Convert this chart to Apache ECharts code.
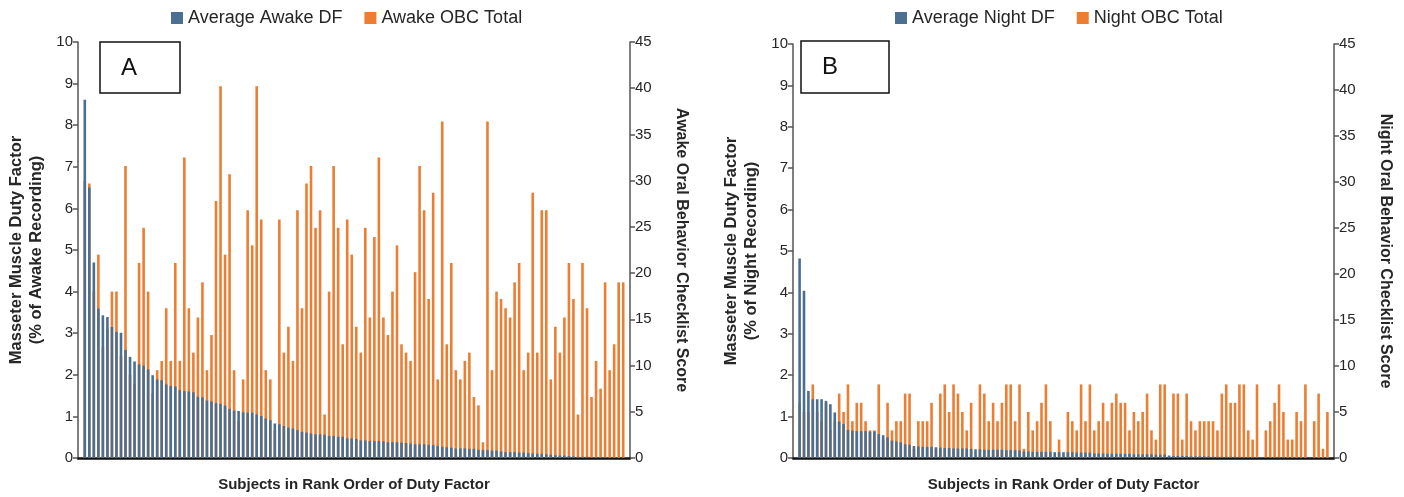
<!DOCTYPE html>
<html>
<head>
<meta charset="utf-8">
<script src="https://cdn.jsdelivr.net/npm/echarts@6/dist/echarts.min.js"></script>
<style>
  html, body { margin: 0; padding: 0; background: #fff; }
  #chart { width: 1404px; height: 497px; }
</style>
</head>
<body>
<div id="chart"></div>
<script>
// panel A: awake, subjects ranked by duty factor
const awakeDF = [
  8.61, 6.50, 4.70, 3.59, 3.43, 3.39, 3.15, 3.03, 3.01, 2.60,
  2.43, 2.32, 2.25, 2.22, 2.13, 1.99, 1.89, 1.87, 1.77, 1.73,
  1.72, 1.63, 1.61, 1.60, 1.58, 1.47, 1.46, 1.38, 1.36, 1.32,
  1.30, 1.26, 1.18, 1.14, 1.13, 1.10, 1.09, 1.09, 1.05, 1.01,
  0.95, 0.91, 0.83, 0.81, 0.77, 0.73, 0.71, 0.67, 0.63, 0.61,
  0.59, 0.57, 0.57, 0.56, 0.53, 0.53, 0.51, 0.51, 0.47, 0.47,
  0.46, 0.42, 0.42, 0.41, 0.41, 0.41, 0.40, 0.38, 0.38, 0.38,
  0.37, 0.36, 0.35, 0.33, 0.33, 0.33, 0.32, 0.31, 0.29, 0.27,
  0.26, 0.25, 0.23, 0.23, 0.23, 0.22, 0.22, 0.20, 0.19, 0.19,
  0.18, 0.18, 0.16, 0.14, 0.14, 0.14, 0.13, 0.13, 0.12, 0.11,
  0.10, 0.10, 0.09, 0.08, 0.07, 0.06, 0.06, 0.05, 0.04, 0.03,
  0.03, 0.03, 0.02, 0.02, 0.02, 0.02, 0.01, 0.01, 0.01, 0.01
]
const awakeOBC = [
  30, 29.7, 18, 22.0, 12, 14, 18.0, 18.0, 11, 31.6,
  9, 8, 21.1, 24.9, 18.0, 7, 9.5, 10.5, 16.2, 10.5,
  21.1, 10.5, 32.5, 16.2, 11.4, 15.2, 19.0, 9.5, 13.3, 27.8,
  40.2, 22.0, 30.7, 9.5, 4, 8.5, 26.8, 23.0, 40.2, 25.8,
  9.5, 8.5, 3, 25.8, 11.4, 14.2, 10.5, 26.8, 16.2, 29.7,
  31.6, 24.9, 26.8, 4.7, 18.0, 31.6, 24.9, 12.3, 25.8, 22.0,
  14.2, 11.4, 24.9, 15.2, 23.9, 32.5, 15.2, 13.3, 18.0, 23.0,
  12.3, 11.4, 10.5, 20.1, 31.6, 26.8, 17.2, 28.7, 8.5, 36.4,
  12.3, 21.1, 9.5, 8.5, 10.5, 11.4, 6.6, 5.7, 1.7, 36.4,
  9.5, 18.0, 17.2, 16.2, 15.2, 19.0, 21.1, 9.5, 11.4, 28.7,
  11.4, 26.8, 26.8, 8.5, 14.2, 11.4, 15.2, 21.1, 17.2, 4.7,
  21.1, 16.2, 6.6, 10.5, 7.5, 19.0, 9.5, 12.3, 19.0, 19.0
]

// panel B: night
const nightDF = [
  4.82, 4.04, 1.62, 1.42, 1.42, 1.42, 1.38, 1.30, 1.10, 0.88,
  0.82, 0.68, 0.66, 0.65, 0.65, 0.65, 0.64, 0.64, 0.58, 0.55,
  0.50, 0.42, 0.40, 0.38, 0.33, 0.32, 0.29, 0.28, 0.27, 0.27,
  0.27, 0.26, 0.25, 0.24, 0.24, 0.23, 0.23, 0.23, 0.23, 0.22,
  0.21, 0.21, 0.20, 0.20, 0.20, 0.20, 0.20, 0.19, 0.19, 0.19,
  0.18, 0.16, 0.16, 0.15, 0.15, 0.15, 0.15, 0.15, 0.14, 0.14,
  0.14, 0.14, 0.14, 0.13, 0.13, 0.13, 0.13, 0.11, 0.11, 0.11,
  0.10, 0.10, 0.10, 0.10, 0.10, 0.10, 0.09, 0.09, 0.09, 0.09,
  0.09, 0.08, 0.08, 0.08, 0.06, 0.05, 0.05, 0.05, 0.05, 0.04,
  0.04, 0.04, 0.04, 0.04, 0.03, 0.03, 0.03, 0.03, 0.03, 0.03,
  0.03, 0.02, 0.02, 0.02, 0.02, 0.02, 0.02, 0.02, 0.02, 0.02,
  0.02, 0.01, 0.01, 0.01, 0.01, 0.01, 0.01, 0.01, 0.01, 0.01,
  0.01
]
const nightOBC = [
  6, 5, 5, 8, 5, 4, 6, 3, 4, 7,
  5, 8, 4, 6, 6, 4, 3, 3, 8, 2,
  6, 3, 4, 4, 7, 7, 1, 4, 4, 4,
  6, 1, 7, 8, 5, 8, 7, 5, 3, 6,
  0, 8, 7, 4, 6, 4, 6, 8, 8, 4,
  8, 1, 5, 3, 4, 6, 8, 4, 0, 2,
  0, 5, 4, 3, 8, 4, 8, 3, 4, 6,
  4, 6, 7, 6, 6, 3, 5, 4, 5, 7,
  3, 2, 8, 8, 0, 7, 7, 2, 7, 4,
  3, 4, 4, 4, 4, 3, 7, 8, 6, 6,
  8, 8, 3, 2, 8, 0, 3, 4, 6, 8,
  5, 2, 2, 5, 4, 8, 0, 4, 7, 1,
  5
]

const dfTicks = [0, 10, 1]
const obcTicks = [0, 45, 5]

const FONT = '"Liberation Sans", Arial, sans-serif'
const BLUE = '#4b6f90'
const ORANGE = '#ed7d31'
const INK = '#262626'

// one empty slot at each end, the original axis leaves a little room
function padded (arr) {
  return [null].concat(arr, [null])
}
function rankCats (n) {
  let out = ['']
  for (let i = 1; i <= n; i++) out.push(String(i))
  out.push('')
  return out
}

function valueAxis (gridIndex, ticks, side, name, nameGap, rotate, size) {
  return {
    type: 'value',
    gridIndex: gridIndex,
    position: side,
    min: ticks[0],
    max: ticks[1],
    interval: ticks[2],
    name: name,
    nameLocation: 'middle',
    nameGap: nameGap,
    nameRotate: rotate,
    nameTextStyle: { fontFamily: FONT, fontSize: size, fontWeight: 'bold', color: INK, lineHeight: 20 },
    axisLine: { show: true, lineStyle: { color: '#555', width: 1.5 } },
    axisTick: { show: true, length: 5, lineStyle: { color: '#555', width: 1.5 } },
    axisLabel: { fontFamily: FONT, fontSize: 15, color: INK, margin: 5 },
    splitLine: { show: false }
  }
}

function catAxis (gridIndex, n) {
  return {
    type: 'category',
    gridIndex: gridIndex,
    data: rankCats(n),
    name: 'Subjects in Rank Order of Duty Factor',
    nameLocation: 'middle',
    nameGap: 19,
    nameTextStyle: { fontFamily: FONT, fontSize: 15, fontWeight: 'bold', color: INK },
    axisLine: { show: true, lineStyle: { color: '#111', width: 2.5 } },
    axisTick: { show: false },
    axisLabel: { show: false },
    splitLine: { show: false }
  }
}

function barSeries (name, data, xi, yi, color, z, gap) {
  let s = {
    name: name,
    type: 'bar',
    xAxisIndex: xi,
    yAxisIndex: yi,
    data: padded(data),
    barWidth: 2.6,
    itemStyle: { color: color },
    z: z
  }
  if (gap) s.barGap = gap
  return s
}

function legend (left, names) {
  return {
    left: left,
    top: 4,
    data: names,
    icon: 'rect',
    itemWidth: 12,
    itemHeight: 12,
    itemGap: 22,
    textStyle: { fontFamily: FONT, fontSize: 18, color: INK }
  }
}

function panelBox (x, y, w, h, letter) {
  return [
    { type: 'rect', shape: { x: x, y: y, width: w, height: h }, style: { fill: '#fff', stroke: '#111', lineWidth: 1.5 }, z: 10 },
    { type: 'text', x: x + 21, y: y + 14, style: { text: letter, fontFamily: FONT, fontSize: 24, fill: '#111' }, z: 11 }
  ]
}

const chart = echarts.init(document.getElementById('chart'))
chart.setOption({
  animation: false,
  backgroundColor: '#fff',
  grid: [
    { left: 78, right: 774, top: 42, bottom: 32 },
    { left: 793, right: 70, top: 44, bottom: 36 }
  ],
  legend: [
    legend(166, ['Average Awake DF', 'Awake OBC Total']),
    legend(890, ['Average Night DF', 'Night OBC Total'])
  ],
  xAxis: [catAxis(0, awakeDF.length), catAxis(1, nightDF.length)],
  yAxis: [
    valueAxis(0, dfTicks, 'left', 'Masseter Muscle Duty Factor\n(% of Awake Recording)', 32, 90, 16.5),
    valueAxis(0, obcTicks, 'right', 'Awake Oral Behavior Checklist Score', 41, -90, 16),
    valueAxis(1, dfTicks, 'left', 'Masseter Muscle Duty Factor\n(% of Night Recording)', 32, 90, 16.5),
    valueAxis(1, obcTicks, 'right', 'Night Oral Behavior Checklist Score', 41, -90, 16)
  ],
  series: [
    barSeries('Awake OBC Total', awakeOBC, 0, 1, ORANGE, 2),
    barSeries('Average Awake DF', awakeDF, 0, 0, BLUE, 3, '-100%'),
    barSeries('Night OBC Total', nightOBC, 1, 3, ORANGE, 2),
    barSeries('Average Night DF', nightDF, 1, 2, BLUE, 3, '-100%')
  ],
  graphic: panelBox(100, 42, 80, 51, 'A').concat(panelBox(801, 41, 88, 52, 'B'))
})
</script>
</body>
</html>
